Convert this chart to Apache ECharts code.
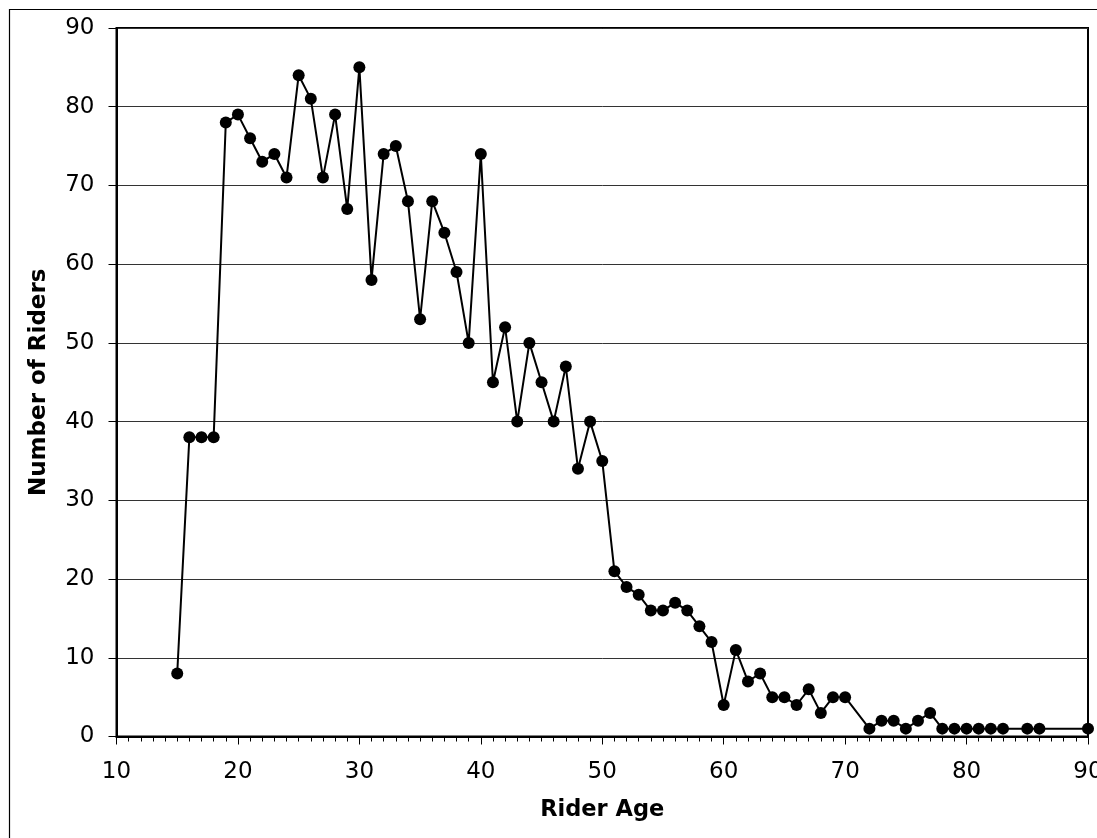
<!DOCTYPE html>
<html>
<head>
<meta charset="utf-8">
<script src="https://cdn.jsdelivr.net/npm/echarts@6/dist/echarts.min.js"></script>
<style>
html,body{margin:0;padding:0;background:#fff;}
#c{width:1097px;height:838px;}
</style>
</head>
<body>
<div id="c"></div>
<script>
const ages =   [15,16,17,18,19,20,21,22,23,24,25,26,27,28,29,30,31,32,33,34,35,36,37,38,39,40,41,42,43,44,45,46,47,48,49,50,51,52,53,54,55,56,57,58,59,60,61,62,63,64,65,66,67,68,69,70,72,73,74,75,76,77,78,79,80,81,82,83,85,86,90];
const riders = [8,38,38,38,78,79,76,73,74,71,84,81,71,79,67,85,58,74,75,68,53,68,64,59,50,74,45,52,40,50,45,40,47,34,40,35,21,19,18,16,16,17,16,14,12,4,11,7,8,5,5,4,6,3,5,5,1,2,2,1,2,3,1,1,1,1,1,1,1,1,1];
const xTitle = 'Rider Age';
const yTitle = 'Number of Riders';

const chart = echarts.init(document.getElementById('c'), null, {renderer:'canvas'});
const font = 'DejaVu Sans, Verdana, sans-serif';
chart.setOption({
  animation:false,
  backgroundColor:'#fff',
  graphic:[{type:'rect',shape:{x:9.5,y:9.5,width:1200,height:1000},style:{fill:'none',stroke:'#000',lineWidth:1.2},silent:true}],
  grid:{left:116.5,top:28,right:9,bottom:101.5,outerBoundsMode:'none',containLabel:false,show:true,borderColor:'#000',borderWidth:2,backgroundColor:'transparent'},
  xAxis:{
    type:'value',min:10,max:90,interval:10,
    name:xTitle,nameLocation:'middle',nameGap:62,
    nameTextStyle:{fontFamily:font,fontSize:22.5,fontWeight:'bold',color:'#000'},
    axisLine:{show:true,lineStyle:{color:'#000',width:2}},
    axisTick:{show:true,inside:false,length:8,lineStyle:{color:'#000',width:1}},
    minorTick:{show:true,splitNumber:10,length:5,lineStyle:{color:'#000',width:1}},
    axisLabel:{fontFamily:font,fontSize:23,color:'#000',margin:24},
    splitLine:{show:false}
  },
  yAxis:{
    type:'value',min:0,max:90,interval:10,
    name:yTitle,nameLocation:'middle',nameGap:66,
    nameTextStyle:{fontFamily:font,fontSize:23,fontWeight:'bold',color:'#000'},
    axisLine:{show:true,lineStyle:{color:'#000',width:2}},
    axisTick:{show:true,inside:false,length:8,lineStyle:{color:'#000',width:1}},
    axisLabel:{fontFamily:font,fontSize:23,color:'#000',margin:22},
    splitLine:{show:true,lineStyle:{color:'#333',width:1}}
  },
  series:[{
    type:'line',
    data:ages.map((a,i)=>[a,riders[i]]),
    symbol:'circle',symbolSize:12,showAllSymbol:true,
    clip:false,
    lineStyle:{color:'#000',width:2},
    itemStyle:{color:'#000'}
  }]
});
</script>
</body>
</html>
